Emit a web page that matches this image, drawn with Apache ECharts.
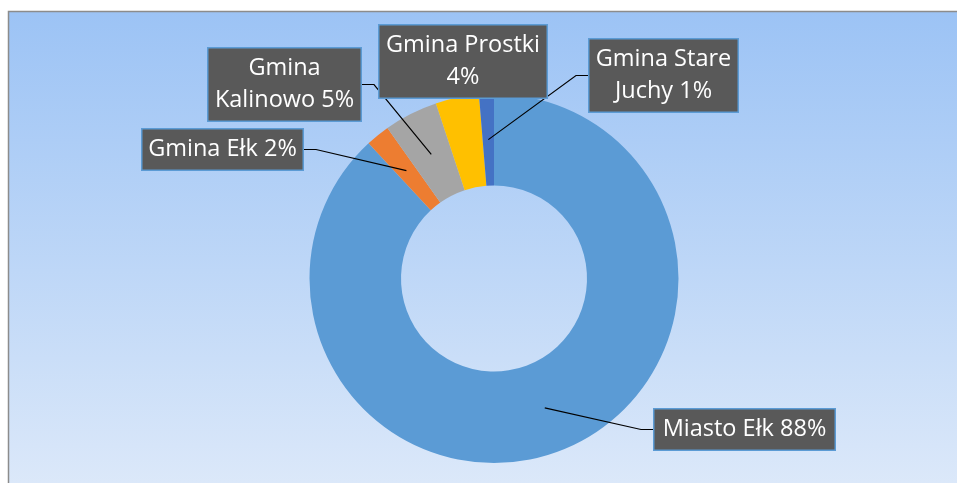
<!DOCTYPE html>
<html>
<head>
<meta charset="utf-8">
<script src="https://cdn.jsdelivr.net/npm/echarts@6/dist/echarts.min.js"></script>
<style>
  html, body { margin: 0; padding: 0; background: #ffffff; }
  #chart { width: 957px; height: 483px; }
</style>
</head>
<body>
<div id="chart"></div>
<script>
// ---- data ----
const categories = ['Miasto Ełk', 'Gmina Ełk', 'Gmina Kalinowo', 'Gmina Prostki', 'Gmina Stare Juchy'];
const shares = [88.1, 2.1, 4.7, 3.8, 1.3];

// ---- styles / layout ----
const palette = ['#5b9bd5', '#ed7d31', '#a5a5a5', '#ffc000', '#4472c4'];
const center = [494, 278.5];
const radius = [93, 184.5];
// label box centres, content widths, and where the text wraps (word index of break, -1 = none)
const labelBoxes = [
  { x: 744.5, y: 429.5, w: 168, side: 'left',  line: true,  brk: -1 },
  { x: 222.5, y: 149.5, w: 148, side: 'right', line: true,  brk: -1 },
  { x: 284.5, y: 84.5,  w: 140, side: 'right', line: true,  brk: 1 },
  { x: 463,   y: 61.5,  w: 155, side: 'right', line: false, brk: 2 },
  { x: 663.5, y: 75.5,  w: 136, side: 'left',  line: true,  brk: 2 }
];
const anchorRadius = 139;
const elbow = 12;

const chart = echarts.init(document.getElementById('chart'), null, { renderer: 'canvas' });

const total = shares.reduce((a, b) => a + b, 0);
function anchorFor(i) {
  let cum = 0;
  for (let k = 0; k < i; k++) cum += shares[k];
  const mid = (cum + shares[i] / 2) / total * 2 * Math.PI;
  return [center[0] + anchorRadius * Math.sin(mid), center[1] - anchorRadius * Math.cos(mid)];
}

const sliceData = categories.map((name, i) => ({
  name: name,
  value: shares[i],
  itemStyle: { color: palette[i] }
}));

const labelData = categories.map((name, i) => ({
  name: name,
  value: shares[i],
  itemStyle: { color: 'rgba(0,0,0,0)' },
  label: { width: labelBoxes[i].w },
  labelLine: { show: labelBoxes[i].line }
}));

chart.setOption({
  animation: false,
  graphic: [{
    type: 'rect',
    z: -10,
    silent: true,
    shape: { x: 8.5, y: 11.5, width: 1000, height: 520 },
    style: {
      fill: new echarts.graphic.LinearGradient(0, 0, 0, 1, [
        { offset: 0, color: '#9cc3f5' },
        { offset: 0.5, color: '#bed7f7' },
        { offset: 1, color: '#e2ecfa' }
      ]),
      stroke: '#8c8c8c',
      lineWidth: 1.5
    }
  }],
  series: [{
    type: 'pie',
    z: 2,
    center: center,
    radius: radius,
    startAngle: 90,
    clockwise: true,
    silent: true,
    data: sliceData,
    itemStyle: { borderWidth: 0 },
    emphasis: { disabled: true },
    label: { show: false },
    labelLine: { show: false }
  }, {
    type: 'pie',
    z: 5,
    center: center,
    radius: radius,
    startAngle: 90,
    clockwise: true,
    silent: true,
    avoidLabelOverlap: false,
    data: labelData,
    itemStyle: { borderWidth: 0 },
    emphasis: { disabled: true },
    label: {
      show: true,
      position: 'outside',
      formatter: function (p) {
        const words = (p.name + ' ' + Math.round(p.percent) + '%').split(' ');
        const brk = labelBoxes[p.dataIndex].brk;
        if (brk < 0) return words.join(' ');
        return words.slice(0, brk).join(' ') + '\n' + words.slice(brk).join(' ');
      },
      overflow: 'none',
      color: '#ffffff',
      fontFamily: 'Open Sans',
      fontSize: 23.5,
      lineHeight: 32,
      align: 'center',
      backgroundColor: '#595959',
      borderColor: '#5b9bd5',
      borderWidth: 1.5,
      padding: [4, 6, 4, 6]
    },
    labelLine: {
      show: true,
      showAbove: true,
      length: 10,
      length2: 10,
      lineStyle: { color: '#000000', width: 1.2 }
    },
    labelLayout: function (params) {
      const i = params.dataIndex;
      const b = labelBoxes[i];
      const r = params.labelRect;
      const res = { x: b.x, y: b.y, align: 'center', verticalAlign: 'middle' };
      if (b.line) {
        const halfW = r.width / 2;
        const edgeX = b.side === 'right' ? b.x + halfW : b.x - halfW;
        const elbowX = b.side === 'right' ? edgeX + elbow : edgeX - elbow;
        res.labelLinePoints = [anchorFor(i), [elbowX, b.y], [edgeX, b.y]];
      }
      return res;
    }
  }]
});
</script>
</body>
</html>
